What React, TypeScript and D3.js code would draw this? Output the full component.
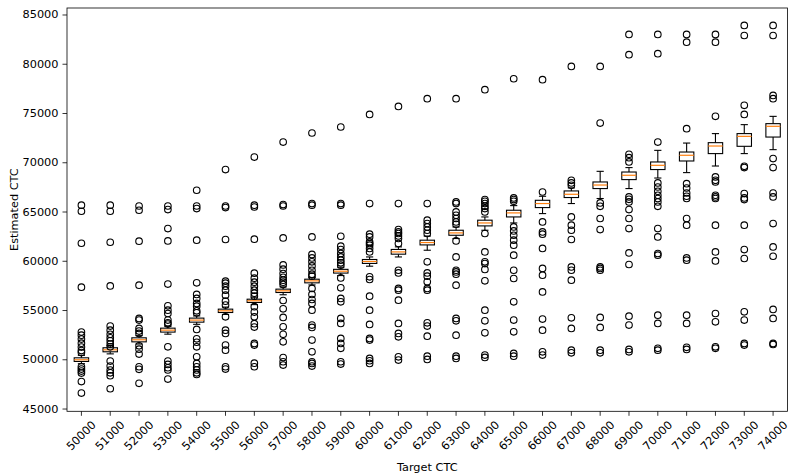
import React, { useEffect } from "react";
import * as d3 from "d3";

const categories = [50000, 51000, 52000, 53000, 54000, 55000, 56000, 57000, 58000, 59000, 60000, 61000, 62000, 63000, 64000, 65000, 66000, 67000, 68000, 69000, 70000, 71000, 72000, 73000, 74000];

const q1 = [49830, 50810, 51820, 52810, 53820, 54800, 55820, 56830, 57810, 58800, 59780, 60720, 61660, 62640, 63590, 64500, 65450, 66470, 67380, 68290, 69310, 70180, 70930, 71670, 72610];
const medians = [50000, 51010, 52030, 53010, 54030, 54970, 55990, 57000, 58010, 58990, 59980, 60950, 61900, 62880, 63890, 64910, 65860, 66800, 67740, 68730, 69740, 70760, 71700, 72680, 73700];
const q3 = [50200, 51220, 52230, 53210, 54230, 55140, 56150, 57170, 58180, 59180, 60180, 61200, 62140, 63150, 64170, 65180, 66190, 67140, 68050, 69060, 70080, 71090, 72040, 72960, 73970];
const whiskerLow = [49600, 50600, 51600, 52600, 53600, 54600, 55600, 56600, 57600, 58550, 59500, 60440, 61120, 62310, 63150, 63890, 64840, 65860, 66370, 67380, 68450, 69000, 69670, 70930, 71330];
const whiskerHigh = [50450, 51450, 52450, 53400, 54450, 55350, 56350, 57400, 58350, 59400, 60440, 61460, 62560, 63480, 64500, 65650, 66600, 67450, 69130, 69510, 71260, 72000, 72960, 73870, 74710];

const fliers: number[][] = [
  [65690, 65080, 61830, 57370, 52810, 52500, 52100, 51690, 51290, 50930, 50730, 49290, 49060, 48850, 48650, 47790, 46620],
  [65690, 65080, 61930, 57500, 53420, 53010, 52580, 52230, 51930, 51590, 51320, 49870, 49360, 48960, 48680, 48380, 47060],
  [65610, 65180, 62040, 57570, 54200, 54030, 53180, 52910, 52680, 51420, 51080, 50580, 49290, 49030, 47610],
  [65610, 65250, 63320, 62070, 57680, 55480, 55040, 54700, 54030, 53750, 53620, 51320, 49870, 49530, 49190, 48960, 48040],
  [67210, 65610, 65350, 62140, 57810, 56630, 56230, 55720, 55440, 54970, 54770, 53080, 52130, 51780, 51320, 50300, 49630, 49290, 48960, 48680, 48510],
  [69310, 65610, 65450, 62210, 57980, 57780, 57470, 57070, 56560, 55950, 55550, 54360, 53010, 52680, 51490, 50980, 49290, 49060],
  [70580, 65690, 65510, 62240, 58790, 58280, 57880, 57470, 57070, 56760, 56460, 55390, 54840, 54360, 53670, 53320, 51660, 51490, 49660, 49290],
  [72100, 65760, 65610, 62370, 59630, 59200, 58760, 58380, 58080, 57880, 57630, 56020, 55170, 54300, 53350, 52580, 51820, 50220, 49800, 49460],
  [73020, 65860, 65690, 62470, 60690, 60340, 59940, 59530, 59090, 58690, 58490, 57240, 56630, 56120, 55720, 55040, 53520, 53280, 52000, 50810, 49800, 49630, 49360],
  [73630, 65860, 65690, 62540, 61530, 61190, 60790, 60440, 60110, 59840, 59600, 58310, 57300, 56230, 55880, 54200, 53690, 52170, 51660, 51160, 49800, 49560],
  [74910, 65860, 62750, 62470, 61960, 61800, 61630, 61300, 60950, 58420, 58150, 56460, 55040, 53590, 52170, 52000, 50140, 49900, 49630],
  [75720, 65860, 63220, 62980, 62820, 62570, 62310, 61800, 59090, 58820, 57240, 57070, 56050, 53690, 52680, 52330, 50300, 49970],
  [76510, 65860, 64170, 63830, 63490, 63150, 62820, 59940, 58820, 58490, 57910, 57240, 57070, 53750, 53420, 52400, 50370, 50040],
  [76510, 66020, 65860, 65010, 64670, 64340, 63990, 63760, 62070, 60440, 59090, 58920, 58690, 57570, 54200, 53950, 52500, 50370, 50140],
  [77420, 66260, 66090, 65860, 65580, 65350, 65010, 62820, 60950, 59940, 59770, 59170, 58010, 55040, 53950, 52740, 50480, 50240],
  [78530, 66430, 66260, 66090, 63490, 63080, 62640, 62140, 61630, 60620, 59090, 58250, 55880, 54030, 52840, 50650, 50370],
  [78430, 67030, 63990, 62980, 62750, 61300, 59270, 58590, 56890, 54130, 53010, 50810, 50480],
  [79780, 68220, 67950, 67710, 64500, 63660, 63150, 62210, 59430, 59090, 58080, 54260, 53180, 50980, 50710],
  [79780, 74030, 65920, 65580, 64340, 63220, 59430, 59270, 59090, 54300, 53280, 50980, 50710],
  [83030, 80970, 70860, 70520, 70080, 66530, 66290, 66020, 65250, 64340, 63320, 60850, 59670, 54430, 53520, 51050, 50810],
  [83030, 81070, 72100, 67950, 67540, 67100, 66700, 66370, 66020, 65580, 63320, 62470, 60790, 60620, 54530, 53690, 51160, 50980],
  [83030, 82240, 73460, 67880, 67440, 66930, 66600, 66370, 64340, 63660, 60340, 60110, 54530, 53690, 51260, 51050],
  [83030, 82240, 74710, 68560, 68220, 68050, 66700, 66530, 66370, 63660, 60950, 60040, 54700, 53850, 51320, 51160],
  [83940, 82920, 75830, 74910, 69640, 69510, 66870, 66430, 66260, 63660, 61190, 60280, 54870, 54030, 51660, 51490],
  [83940, 82920, 76840, 76510, 70420, 69510, 66930, 66530, 63830, 61460, 60510, 55110, 54200, 51660, 51560],
];

const yTicks = [45000, 50000, 55000, 60000, 65000, 70000, 75000, 80000, 85000];

const W = 798;
const H = 476;
const L = 67;
const R = 787.5;
const T = 8;
const B = 411.3;
const FONT = "'DejaVu Sans', sans-serif";
const FS = 11.3;

export default function App() {
  useEffect(() => {
    document.body.style.margin = "0";
  }, []);

  const x = d3.scaleLinear().domain([0.5, categories.length + 0.5]).range([L, R]);
  const y = d3.scaleLinear().domain([44770, 85710]).range([B, T]);
  const step = x(2) - x(1);
  const bw = step * 0.5;
  const cw = bw * 0.5;

  return (
    <svg width={W} height={H} style={{ display: "block" }} fontFamily={FONT}>
      <rect x={0} y={0} width={W} height={H} fill="#fff" />
      {categories.map((c, i) => {
        const cx = x(i + 1);
        return (
          <g key={c}>
            <line x1={cx} x2={cx} y1={y(q1[i])} y2={y(whiskerLow[i])} stroke="#000" strokeWidth={1.1} />
            <line x1={cx} x2={cx} y1={y(q3[i])} y2={y(whiskerHigh[i])} stroke="#000" strokeWidth={1.1} />
            <line x1={cx - cw / 2} x2={cx + cw / 2} y1={y(whiskerLow[i])} y2={y(whiskerLow[i])} stroke="#000" strokeWidth={1.1} />
            <line x1={cx - cw / 2} x2={cx + cw / 2} y1={y(whiskerHigh[i])} y2={y(whiskerHigh[i])} stroke="#000" strokeWidth={1.1} />
            <rect x={cx - bw / 2} y={y(q3[i])} width={bw} height={y(q1[i]) - y(q3[i])} fill="none" stroke="#000" strokeWidth={1.1} />
            <line x1={cx - bw / 2} x2={cx + bw / 2} y1={y(medians[i])} y2={y(medians[i])} stroke="#ff7f0e" strokeWidth={1.2} />
            {fliers[i].map((v, j) => (
              <circle key={j} cx={cx} cy={y(v)} r={3.3} fill="none" stroke="#000" strokeWidth={1.1} />
            ))}
          </g>
        );
      })}
      <rect x={L} y={T} width={R - L} height={B - T} fill="none" stroke="#000" strokeWidth={0.8} />
      {yTicks.map((t) => (
        <g key={t}>
          <line x1={L - 4.5} x2={L} y1={y(t)} y2={y(t)} stroke="#000" strokeWidth={0.8} />
          <text x={L - 8.5} y={y(t)} textAnchor="end" dominantBaseline="central" fontSize={FS} fill="#000">
            {t}
          </text>
        </g>
      ))}
      {categories.map((c, i) => {
        const cx = x(i + 1);
        return (
          <g key={"xt" + c}>
            <line x1={cx} x2={cx} y1={B} y2={B + 4.5} stroke="#000" strokeWidth={0.8} />
            <text
              transform={`translate(${cx},${B + 24.5}) rotate(-45)`}
              textAnchor="middle"
              dominantBaseline="central"
              fontSize={FS}
              fill="#000"
            >
              {c}
            </text>
          </g>
        );
      })}
      <text x={(L + R) / 2} y={467} textAnchor="middle" dominantBaseline="central" fontSize={FS} fill="#000">
        Target CTC
      </text>
      <text transform={`translate(14,${(T + B) / 2}) rotate(-90)`} textAnchor="middle" dominantBaseline="central" fontSize={FS} fill="#000">
        Estimated CTC
      </text>
    </svg>
  );
}
